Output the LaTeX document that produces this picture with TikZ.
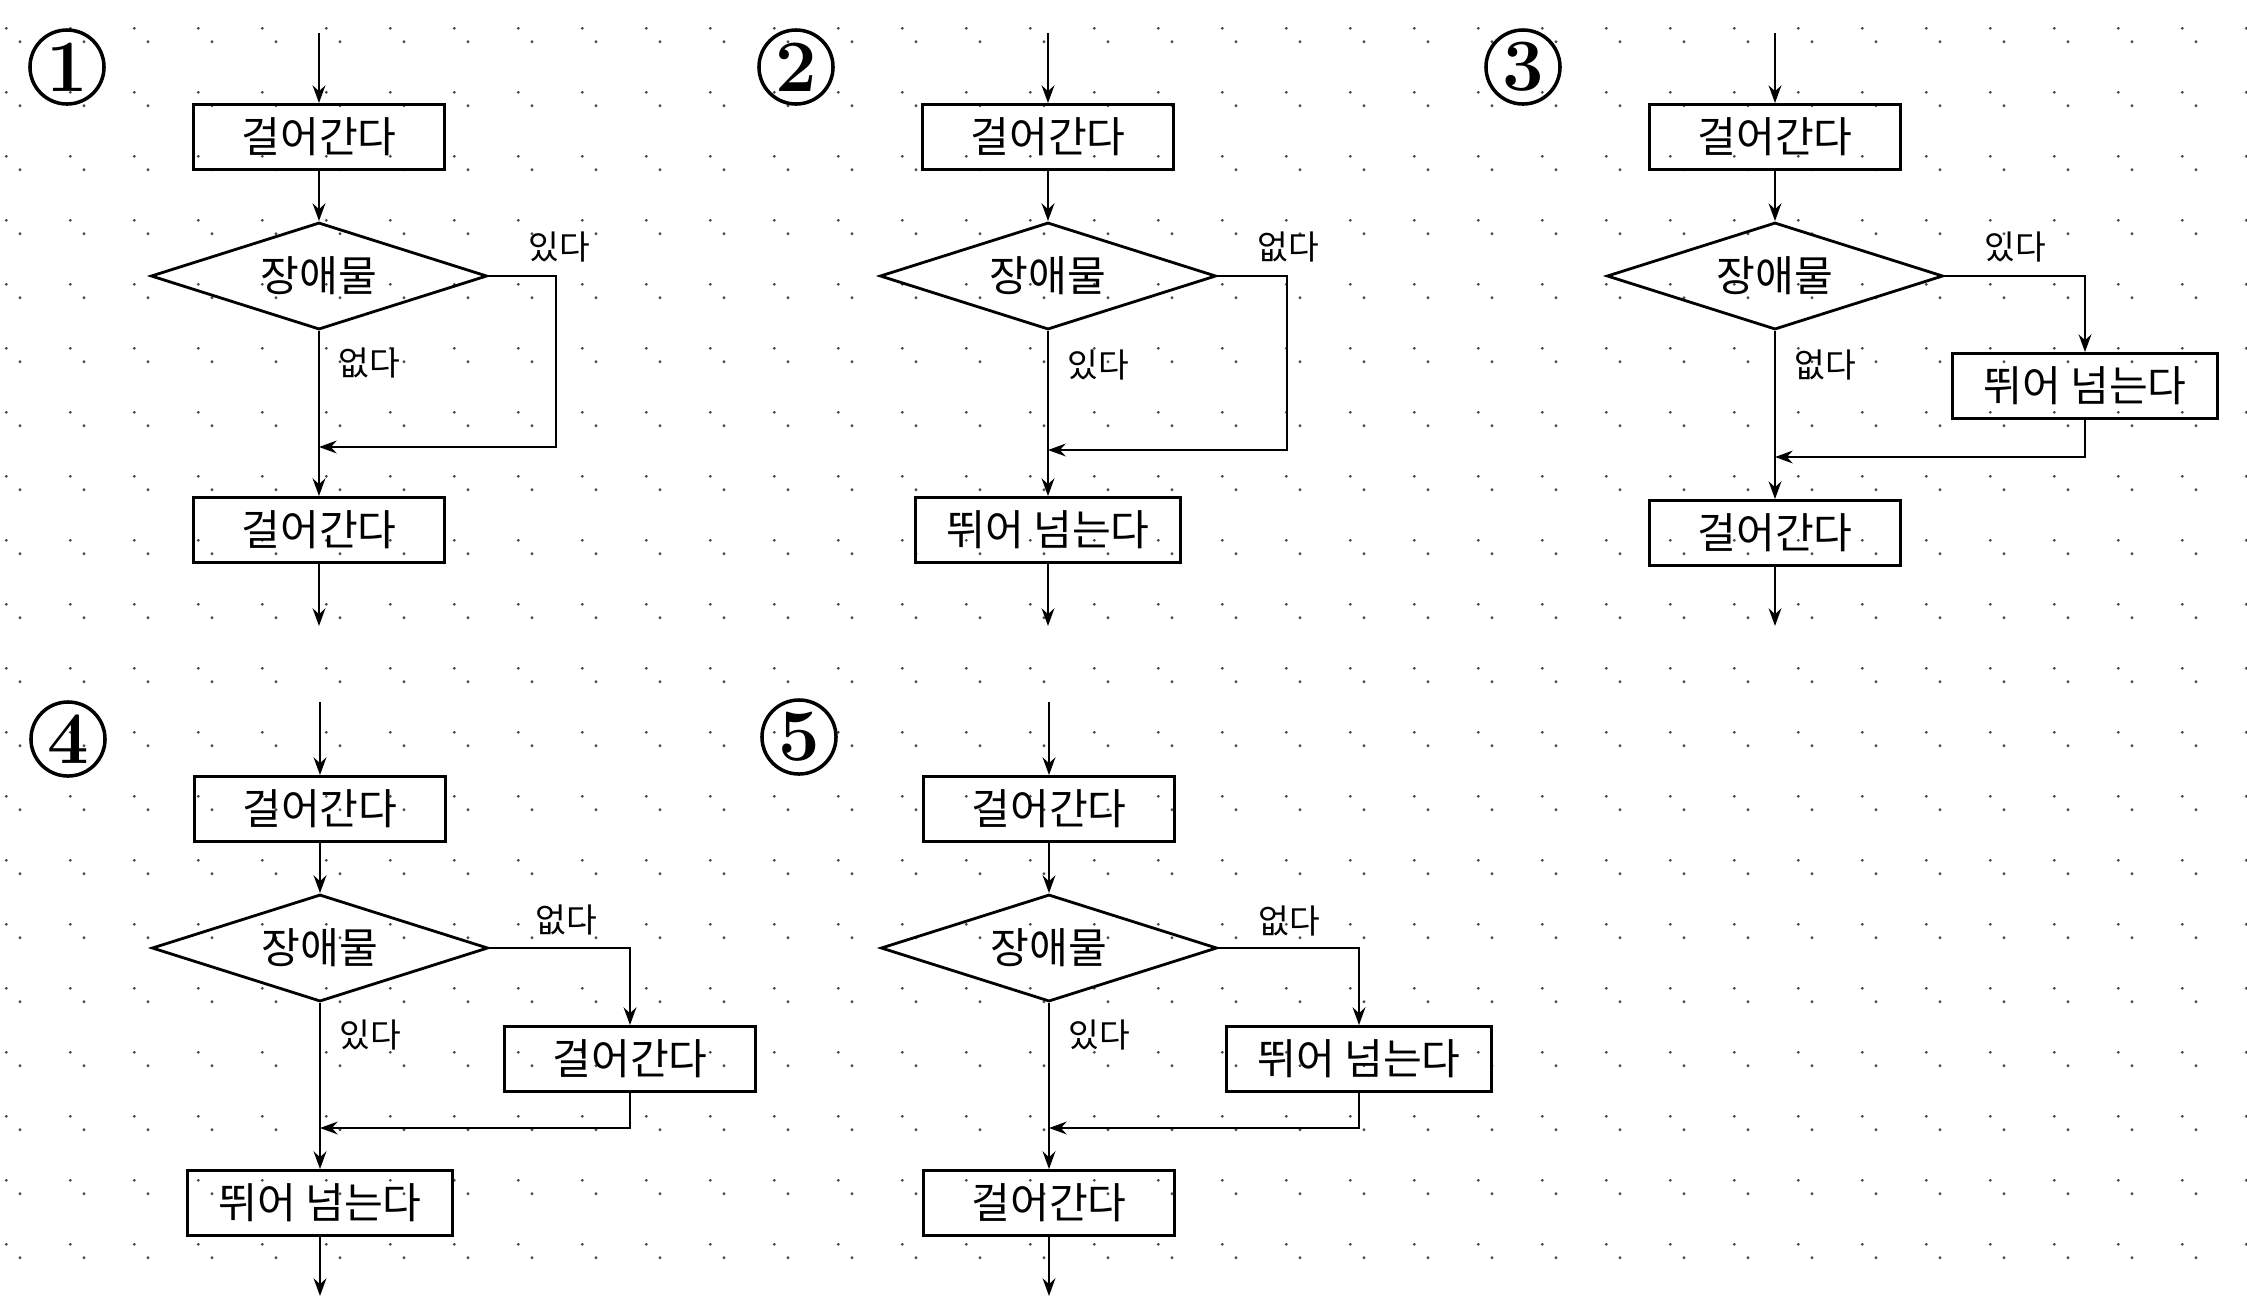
\documentclass[tikz,border=0pt]{standalone}
\usepackage{fontspec}
\newfontfamily\kr{Noto Sans CJK KR}
\usetikzlibrary{arrows.meta,positioning,shapes.geometric}
\tikzset{bloc/.style={draw,line width=0.8pt,minimum width=2.51cm,minimum height=0.65cm,inner sep=0pt,font=\kr\fontsize{12}{14}\selectfont},large/.style={minimum width=2.65cm},choix/.style={draw,diamond,shape aspect=3.1,line width=0.8pt,minimum width=3.36cm,minimum height=1.07cm,inner sep=0pt,font=\kr\fontsize{12}{14}\selectfont},flux/.style={-{Stealth[length=5pt,width=3.6pt]},line width=0.8pt},note/.style={font=\kr\fontsize{9.5}{11}\selectfont,inner sep=0pt},num/.style={draw,circle,line width=1pt,minimum size=0.74cm,inner sep=0pt,font=\fontsize{21}{22}\selectfont\bfseries},point/.style={fill=black!70}}
\begin{document}
\begin{tikzpicture}[x=0.01cm,y=-0.01cm]
\path[use as bounding box,fill=white] (0,0) rectangle (2247,1296);
\foreach \i in {0,...,35} \foreach \j in {0,...,19} \fill[point] (6.3+64*\i,28.3+64*\j) circle[radius=0.45pt];
\foreach \i in {0,...,34} \foreach \j in {0,...,19} \fill[point] (20+64*\i,41.7+64*\j) circle[radius=0.45pt];
\begin{scope}[shift={(319,0)}]
\node[num] (n1) at (-252,67) {1};
\coordinate (h1) at (0,33);
\node[bloc] (a1) at (0,137) {걸어간다};
\node[choix] (d1) at (0,276) {장애물};
\node[bloc] (b1) at (0,530) {걸어간다};
\coordinate (m1) at (0,447);
\coordinate (c1) at (237,447);
\coordinate (f1) at (0,626);
\node[note] (y1) at (240,247) {있다};
\node[note,anchor=west] (z1) at (19,363) {없다};
\draw[flux] (h1) -- (a1);
\draw[flux] (a1) -- (d1);
\draw[flux] (d1) -- (b1);
\draw[flux] (b1) -- (f1);
\draw[flux] (d1.east) -| (c1) -- (m1);
\end{scope}
\begin{scope}[shift={(1048,0)}]
\node[num] (n2) at (-252,67) {2};
\coordinate (h2) at (0,33);
\node[bloc] (a2) at (0,137) {걸어간다};
\node[choix] (d2) at (0,276) {장애물};
\node[bloc,large] (b2) at (0,530) {뛰어 넘는다};
\coordinate (m2) at (0,450);
\coordinate (c2) at (239,450);
\coordinate (f2) at (0,626);
\node[note] (y2) at (240,247) {없다};
\node[note,anchor=west] (z2) at (19,365) {있다};
\draw[flux] (h2) -- (a2);
\draw[flux] (a2) -- (d2);
\draw[flux] (d2) -- (b2);
\draw[flux] (b2) -- (f2);
\draw[flux] (d2.east) -| (c2) -- (m2);
\end{scope}
\begin{scope}[shift={(1775,0)}]
\node[num] (n3) at (-252,67) {3};
\coordinate (h3) at (0,33);
\node[bloc] (a3) at (0,137) {걸어간다};
\node[choix] (d3) at (0,276) {장애물};
\node[bloc,large] (s3) at (310,386) {뛰어 넘는다};
\node[bloc] (b3) at (0,533) {걸어간다};
\coordinate (m3) at (0,457);
\coordinate (f3) at (0,626);
\node[note] (y3) at (240,247) {있다};
\node[note,anchor=west] (z3) at (19,365) {없다};
\draw[flux] (h3) -- (a3);
\draw[flux] (a3) -- (d3);
\draw[flux] (d3) -- (b3);
\draw[flux] (b3) -- (f3);
\draw[flux] (d3.east) -| (s3.north);
\draw[flux] (s3.south) |- (m3);
\end{scope}
\begin{scope}[shift={(320,672)}]
\node[num] (n4) at (-252,67) {4};
\coordinate (h4) at (0,30);
\node[bloc] (a4) at (0,137) {걸어간다};
\node[choix] (d4) at (0,276) {장애물};
\node[bloc] (s4) at (310,387) {걸어간다};
\node[bloc,large] (b4) at (0,531) {뛰어 넘는다};
\coordinate (m4) at (0,456);
\coordinate (f4) at (0,624);
\node[note] (y4) at (246,248) {없다};
\node[note,anchor=west] (z4) at (19,363) {있다};
\draw[flux] (h4) -- (a4);
\draw[flux] (a4) -- (d4);
\draw[flux] (d4) -- (b4);
\draw[flux] (b4) -- (f4);
\draw[flux] (d4.east) -| (s4.north);
\draw[flux] (s4.south) |- (m4);
\end{scope}
\begin{scope}[shift={(1049,672)}]
\node[num] (n5) at (-250,65) {5};
\coordinate (h5) at (0,30);
\node[bloc] (a5) at (0,137) {걸어간다};
\node[choix] (d5) at (0,276) {장애물};
\node[bloc,large] (s5) at (310,387) {뛰어 넘는다};
\node[bloc] (b5) at (0,531) {걸어간다};
\coordinate (m5) at (0,456);
\coordinate (f5) at (0,624);
\node[note] (y5) at (240,249) {없다};
\node[note,anchor=west] (z5) at (19,363) {있다};
\draw[flux] (h5) -- (a5);
\draw[flux] (a5) -- (d5);
\draw[flux] (d5) -- (b5);
\draw[flux] (b5) -- (f5);
\draw[flux] (d5.east) -| (s5.north);
\draw[flux] (s5.south) |- (m5);
\end{scope}
\end{tikzpicture}
\end{document}
